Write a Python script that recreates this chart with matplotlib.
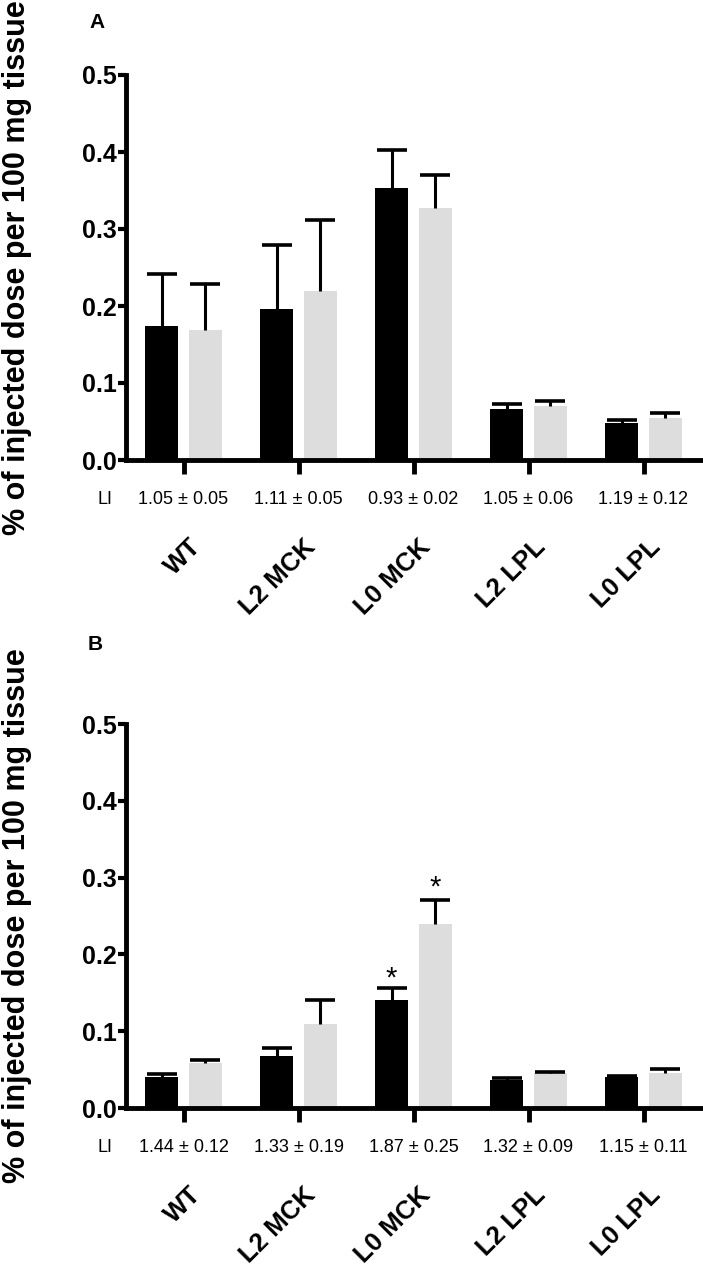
import numpy as np
import matplotlib.pyplot as plt
import matplotlib.transforms as mtransforms

plt.rcParams['font.family'] = ['Liberation Sans', 'DejaVu Sans']

groups = ['WT', 'L2 MCK', 'L0 MCK', 'L2 LPL', 'L0 LPL']

# panel A
a_black = [0.174, 0.196, 0.353, 0.066, 0.048]
a_black_err = [0.067, 0.083, 0.049, 0.007, 0.004]
a_grey = [0.169, 0.219, 0.327, 0.070, 0.055]
a_grey_err = [0.060, 0.093, 0.043, 0.006, 0.006]
a_li = ['1.05 ± 0.05', '1.11 ± 0.05', '0.93 ± 0.02', '1.05 ± 0.06', '1.19 ± 0.12']

# panel B
b_black = [0.041, 0.068, 0.140, 0.037, 0.040]
b_black_err = [0.003, 0.010, 0.016, 0.002, 0.002]
b_grey = [0.059, 0.110, 0.240, 0.045, 0.046]
b_grey_err = [0.004, 0.030, 0.031, 0.002, 0.005]
b_li = ['1.44 ± 0.12', '1.33 ± 0.19', '1.87 ± 0.25', '1.32 ± 0.09', '1.15 ± 0.11']
b_star_black = [False, False, True, False, False]
b_star_grey = [False, False, True, False, False]

W, H = 703, 1269
fig = plt.figure(figsize=(W / 100, H / 100), dpi=100)


def upper_err(ax, xs, ys, err):
    # only the upper half of the error bar, as in the original figure
    eb = ax.errorbar(xs, ys, yerr=[np.zeros(len(xs)), err], fmt='none',
                     ecolor='black', elinewidth=2.2, capsize=11, capthick=2.6,
                     zorder=3)
    eb[1][0].set_visible(False)


def panel(top_px, zero_px, letter, letter_xy, black, black_err, grey, grey_err,
          li, star_black=None, star_grey=None):
    ax = fig.add_axes([126 / W, (H - zero_px) / H, 575 / W,
                       (zero_px - top_px) / H])
    x = np.arange(len(groups))
    bw = 0.29
    off = 0.19
    ax.bar(x - off, black, bw, color='black', zorder=2)
    ax.bar(x + off, grey, bw, color='#dddddd', zorder=2)
    upper_err(ax, x - off, black, black_err)
    upper_err(ax, x + off, grey, grey_err)
    if star_black is not None:
        for i in range(len(x)):
            if star_black[i]:
                ax.annotate('*', (x[i] - off, black[i] + black_err[i]),
                            xytext=(0, 1), textcoords='offset points',
                            ha='center', va='baseline', fontsize=21)
            if star_grey[i]:
                ax.annotate('*', (x[i] + off, grey[i] + grey_err[i]),
                            xytext=(0, 3), textcoords='offset points',
                            ha='center', va='baseline', fontsize=21)

    ax.set_xlim(-0.5, 4.5)
    ax.set_ylim(0, 0.5)
    ticks = np.arange(0, 0.51, 0.1)
    ax.set_yticks(ticks)
    ax.set_yticklabels(['%.1f' % v for v in ticks], fontsize=18,
                       fontweight='bold')
    ax.set_xticks(x)
    ax.set_xticklabels([])
    for s in ['top', 'right']:
        ax.spines[s].set_visible(False)
    for s in ['left', 'bottom']:
        ax.spines[s].set_linewidth(3.5)
    ax.tick_params(axis='y', length=6, width=3, pad=0.5)
    ax.tick_params(axis='x', length=10, width=3.5)

    ax_h = zero_px - top_px
    trans = mtransforms.blended_transform_factory(ax.transData, ax.transAxes)
    for i in range(len(x)):
        ax.text(x[i], -40 / ax_h, li[i], transform=trans, ha='center',
                va='center', fontsize=13)
        ax.text(x[i] + 0.115, -83 / ax_h, groups[i], transform=trans,
                rotation=45, rotation_mode='anchor', ha='right', va='center',
                fontsize=18.5, fontweight='bold')
    ax.text(-21 / 575, -40 / ax_h, 'LI', transform=ax.transAxes, ha='center',
            va='center', fontsize=13)

    fig.text(17 / W, 1 - (top_px + zero_px) / 2 / H,
             '% of injected dose per 100 mg tissue', rotation=90,
             ha='center', va='center', fontsize=22, fontweight='bold')
    fig.text(letter_xy[0] / W, 1 - letter_xy[1] / H, letter, ha='center',
             va='center', fontsize=15, fontweight='bold')
    return ax


panel(75, 460, 'A', (97, 23), a_black, a_black_err, a_grey, a_grey_err, a_li)
panel(724, 1108, 'B', (95, 645), b_black, b_black_err, b_grey, b_grey_err,
      b_li, b_star_black, b_star_grey)

fig.savefig('out.png', dpi=100)
